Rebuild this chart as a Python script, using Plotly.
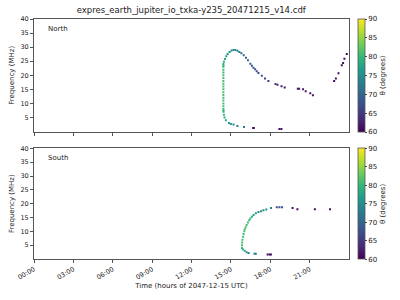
import plotly.graph_objects as go
from plotly.subplots import make_subplots
import pandas as pd

# ---- data (hours of day, frequency MHz, theta degrees) ----
north_hours = [14.62, 14.52, 14.47, 14.44, 14.43, 14.43, 14.43, 14.43, 14.43, 14.43, 14.43, 14.43,
               14.43, 14.43, 14.43, 14.43, 14.43, 14.43, 14.43, 14.43, 14.43, 14.43, 14.43, 14.47,
               14.55, 14.65, 14.75, 14.9, 15.05, 15.2, 15.35, 15.5, 15.65, 15.8, 15.98, 16.15,
               16.3, 16.48, 16.6, 16.72, 16.85, 16.97, 17.1, 17.36, 17.6, 17.86, 18.4, 18.55,
               18.86, 19.1, 20.1, 20.2, 20.5, 20.7, 21.05, 21.25,
               22.87, 23.0, 23.2, 23.45, 23.55, 23.65, 23.83,
               14.85, 15.0, 15.2, 15.5, 16.0, 16.7, 16.75, 18.7, 18.85]
north_freq = [4.0, 5.0, 6.0, 7.0, 8.0, 9.0, 10.0, 11.0, 12.0, 13.0, 14.0, 15.0,
              16.0, 17.0, 18.0, 19.0, 20.0, 21.0, 22.0, 23.0, 24.0, 7.5, 23.5, 24.8,
              25.8, 26.8, 27.6, 28.3, 28.8, 29.0, 29.0, 28.7, 28.3, 27.8, 27.1, 26.2,
              25.3, 24.1, 23.4, 22.7, 22.1, 21.4, 20.8, 19.8, 18.9, 18.0, 16.9, 16.6,
              16.1, 15.7, 15.2, 15.2, 15.0, 14.3, 13.6, 12.9,
              18.0, 18.9, 20.7, 23.6, 24.4, 25.9, 27.6,
              3.0, 2.7, 2.5, 2.0, 1.6, 1.3, 1.3, 0.9, 0.9]
north_theta = [78, 79, 80, 80, 81, 81, 81, 81, 81, 81, 81, 81,
               81, 81, 81, 81, 81, 80, 80, 80, 80, 80, 80, 79,
               78, 77, 76, 75, 74, 74, 74, 73, 72, 71, 70, 70,
               69, 69, 68, 68, 68, 67, 67, 67, 66, 65, 64, 63,
               62, 62, 62, 62, 62, 62, 62, 62,
               61, 61, 61, 61, 61, 61, 61,
               76, 75, 74, 73, 72, 61, 61, 61, 61]

south_hours = [15.85, 15.85, 15.86, 15.88, 15.93, 15.97, 16.02, 16.06, 16.13, 16.2, 16.3, 16.4,
               16.48, 16.6, 16.73, 16.9, 17.1, 17.3, 17.48, 17.7, 18.06, 18.5, 18.7, 18.9,
               19.7, 20.07, 21.4, 22.55,
               15.9, 16.05, 16.2, 16.35, 16.8, 16.9, 17.8, 17.95, 18.05]
south_freq = [4.0, 5.0, 6.0, 7.0, 8.0, 9.0, 10.0, 10.8, 11.5, 12.3, 13.2, 14.0,
              14.6, 15.3, 15.9, 16.5, 17.0, 17.3, 17.6, 17.9, 18.4, 18.7, 18.7, 18.7,
              18.4, 18.0, 18.0, 18.0,
              3.5, 3.0, 2.4, 2.2, 1.9, 1.9, 1.6, 1.6, 1.6]
south_theta = [81, 81, 81, 81, 81, 81, 81, 81, 81, 81, 81, 80,
               80, 79, 77, 76, 75, 75, 74, 74, 73, 67, 67, 67,
               61, 61, 61, 61,
               78, 76, 75, 74, 73, 73, 61, 61, 61]

title = "expres_earth_jupiter_io_txka-y235_20471215_v14.cdf"
day = pd.Timestamp("2047-12-15")


def to_time(hours):
    return [day + pd.Timedelta(hours=h) for h in hours]


font = "DejaVu Sans"
fig = make_subplots(rows=2, cols=1, shared_xaxes=True, vertical_spacing=0.07)

fig.add_trace(go.Scatter(x=to_time(north_hours), y=north_freq, mode="markers",
                         marker=dict(symbol="square", size=2, color=north_theta,
                                     coloraxis="coloraxis", line=dict(width=0)),
                         showlegend=False), row=1, col=1)
fig.add_trace(go.Scatter(x=to_time(south_hours), y=south_freq, mode="markers",
                         marker=dict(symbol="square", size=2, color=south_theta,
                                     coloraxis="coloraxis2", line=dict(width=0)),
                         showlegend=False), row=2, col=1)

frame = "#555555"
cb_common = dict(thickness=7, x=1.03, xanchor="left", xpad=0, ypad=0, lenmode="fraction",
                 yanchor="top", outlinecolor=frame, outlinewidth=0.8,
                 tickvals=[60, 65, 70, 75, 80, 85, 90], ticks="outside", ticklen=2,
                 tickfont=dict(size=7, family=font, color="#222"),
                 title=dict(text="θ (degrees)", side="right",
                            font=dict(size=7, family=font, color="#222")))
fig.update_layout(
    width=400, height=300,
    margin=dict(l=31, r=50, t=19, b=38),
    paper_bgcolor="white", plot_bgcolor="white",
    font=dict(family=font, size=7, color="#222"),
    title=dict(text=title, x=0.478, xanchor="center", y=0.965, yanchor="middle",
               font=dict(size=8.5, family=font, color="#222")),
    coloraxis=dict(colorscale="Viridis", cmin=60, cmax=90,
                   colorbar=dict(y=1.0, len=0.469, **cb_common)),
    coloraxis2=dict(colorscale="Viridis", cmin=60, cmax=90,
                    colorbar=dict(y=0.461, len=0.461, **cb_common)),
)

fig.update_layout(yaxis=dict(domain=[0.531, 1.0]), yaxis2=dict(domain=[0.0, 0.461]))

xcommon = dict(type="date", range=[day, day + pd.Timedelta(hours=24)],
               tickvals=to_time([0, 3, 6, 9, 12, 15, 18, 21]),
               tickformat="%H:%M", ticks="outside", ticklen=3, tickcolor=frame,
               showline=True, linecolor=frame, linewidth=1, mirror=True,
               showgrid=False, zeroline=False, tickangle=-30,
               tickfont=dict(size=6.5, family=font, color="#222"))
fig.update_xaxes(**xcommon)
fig.update_xaxes(showticklabels=False, row=1, col=1)
fig.update_xaxes(title=dict(text="Time (hours of 2047-12-15 UTC)", standoff=2,
                            font=dict(size=7, family=font, color="#222")), row=2, col=1)

fig.update_yaxes(range=[0, 40], tickvals=[5, 10, 15, 20, 25, 30, 35, 40],
                 ticks="outside", ticklen=3, tickcolor=frame,
                 showline=True, linecolor=frame, linewidth=1, mirror=True,
                 showgrid=False, zeroline=False,
                 tickfont=dict(size=6.5, family=font, color="#222"),
                 title=dict(text="Frequency (MHz)", standoff=4,
                            font=dict(size=7, family=font, color="#222")))

fig.add_annotation(text="North", xref="x domain", yref="y domain", x=0.038, y=0.915,
                   xanchor="left", yanchor="middle", showarrow=False,
                   font=dict(size=7, family=font, color="#222"))
fig.add_annotation(text="South", xref="x2 domain", yref="y2 domain", x=0.038, y=0.915,
                   xanchor="left", yanchor="middle", showarrow=False,
                   font=dict(size=7, family=font, color="#222"))

fig.write_html("out.html")
